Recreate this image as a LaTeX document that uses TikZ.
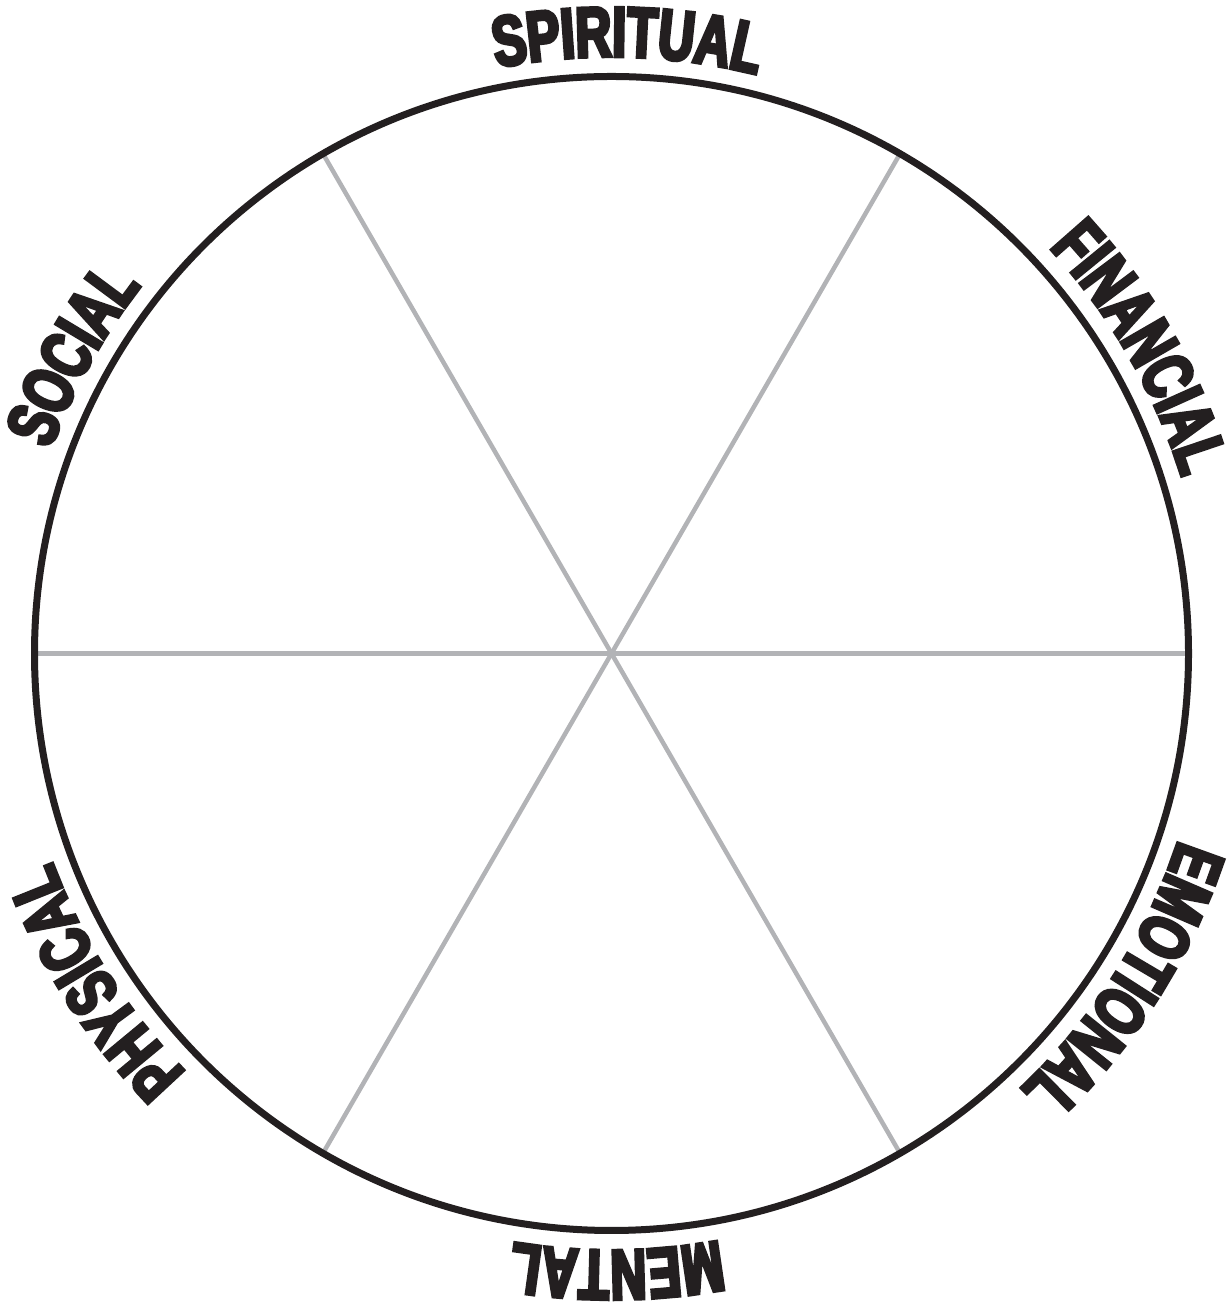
\documentclass[tikz,border=0pt]{standalone}
\usepackage{fontspec}
\usetikzlibrary{decorations.text,calc}
\newfontfamily\labfont[FakeStretch=0.70,FakeBold=5]{Liberation Sans Bold}
\newcommand\labstyle{\labfont\fontsize{71}{71}\selectfont}
\definecolor{ink}{RGB}{35,31,32}
\definecolor{spokegray}{RGB}{178,179,182}
\tikzset{
  rim/.style={draw=ink, line width=7pt},
  spoke/.style={draw=spokegray, line width=4.5pt},
  lab/.style={decorate, decoration={text along path, text align=center, text color=ink, text={|\labstyle|#1}}}
}
\newcommand\arclabel[2]{%
  \path[lab=#2] (c) ++(#1+45:597) arc[start angle=#1+45, end angle=#1-45, radius=597];}
\begin{document}
\begin{tikzpicture}[x=1pt,y=1pt]
\useasboundingbox (0,0) rectangle (1231,1303);
\coordinate (c) at (611.5,649.5);
\foreach \a in {0,60,120,180,240,300} {
  \coordinate (p\a) at ($(c)+(\a:575)$);
  \draw[spoke] (c) -- (p\a);
}
\draw[rim] (c) circle[radius=577];
\arclabel{88.5}{SPIRITUAL}
\arclabel{30}{FINANCIAL}
\arclabel{-32.5}{EMOTIONAL}
\arclabel{-89.5}{MENTAL}
\arclabel{212.5}{PHYSICAL}
\arclabel{151}{SOCIAL}
\end{tikzpicture}
\end{document}
